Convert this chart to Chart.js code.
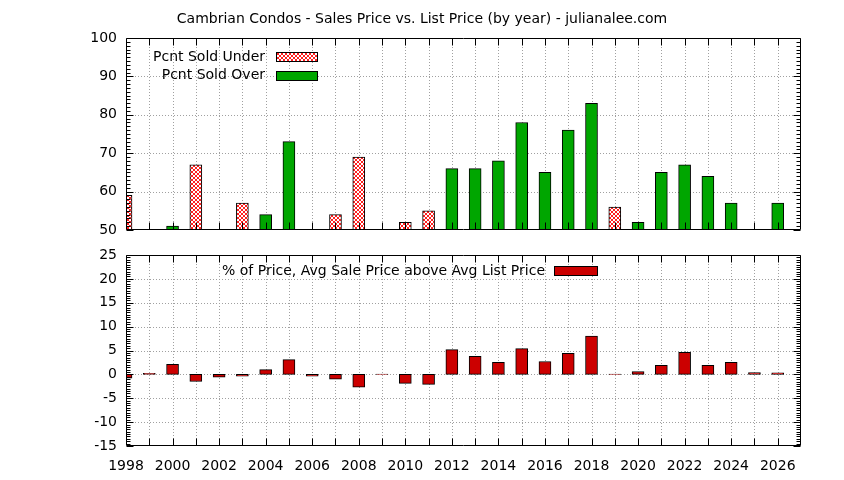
<!DOCTYPE html>
<html><head><meta charset="utf-8">
<script src="https://cdn.jsdelivr.net/npm/chart.js@4.4.1/dist/chart.umd.min.js"></script>
<style>
html,body{margin:0;padding:0;background:#fff;}
#wrap{position:relative;width:844px;height:480px;overflow:hidden;}
canvas{position:absolute;left:0;}
#c1{top:0}
#c2{top:240px}
</style></head><body>
<div id="wrap"><canvas id="c1" width="844" height="240"></canvas><canvas id="c2" width="844" height="240"></canvas></div>
<script>
const titleText = 'Cambrian Condos - Sales Price vs. List Price (by year) - julianalee.com';
const years = [1998,1999,2000,2001,2002,2003,2004,2005,2006,2007,2008,2009,2010,2011,2012,2013,2014,2015,2016,2017,2018,2019,2020,2021,2022,2023,2024,2025,2026];
const pcntUnder = [59,null,null,67,null,57,null,null,null,54,69,null,52,55,null,null,null,null,null,null,null,56,null,null,null,null,null,null,null];
const pcntOver  = [null,null,51,null,null,null,54,73,null,null,null,null,null,null,66,66,68,78,65,76,83,null,52,65,67,64,57,null,57];
const pctAbove  = [-0.8,0.2,2.1,-1.5,-0.6,-0.4,1.0,3.1,-0.4,-1.0,-2.7,0.05,-1.9,-2.1,5.2,3.8,2.5,5.4,2.7,4.4,8.0,0.05,0.6,1.9,4.6,1.9,2.5,0.4,0.3];
const labelUnder = 'Pcnt Sold Under';
const labelOver = 'Pcnt Sold Over';
const labelAbove = '% of Price, Avg Sale Price above Avg List Price';

const FONT_FAMILY = '"DejaVu Sans", sans-serif';
const FONT_SIZE = 14;
const FONT = {family: FONT_FAMILY, size: FONT_SIZE};

function makeHatch(){
  const p = document.createElement('canvas'); p.width = 4; p.height = 4;
  const g = p.getContext('2d');
  g.fillStyle = '#fff'; g.fillRect(0,0,4,4);
  g.fillStyle = '#ff2020';
  for (let i=0;i<4;i++){ g.fillRect(i,i,1,1); g.fillRect(3-i,i,1,1); }
  return g.createPattern(p,'repeat');
}
const hatch = makeHatch();

function panelPlugin(cfg){
  return {
    id: 'panel',
    beforeDatasetsDraw(chart){
      const {ctx, chartArea: a, scales} = chart;
      const xs = scales.x, ys = scales.y;
      ctx.save();
      ctx.strokeStyle = '#a0a0a0'; ctx.lineWidth = 1; ctx.setLineDash([1,2]);
      for (let yr = xs.min + 1; yr < xs.max; yr++){
        const px = Math.round(xs.getPixelForValue(yr)) + 0.5;
        ctx.beginPath(); ctx.moveTo(px, a.top); ctx.lineTo(px, a.bottom); ctx.stroke();
      }
      for (let v = ys.min + cfg.yStep; v < ys.max; v += cfg.yStep){
        const py = Math.round(ys.getPixelForValue(v)) + 0.5;
        ctx.beginPath(); ctx.moveTo(a.left, py); ctx.lineTo(a.right, py); ctx.stroke();
      }
      ctx.restore();
    },
    afterDatasetsDraw(chart){
      const {ctx, chartArea: a, scales} = chart;
      const xs = scales.x, ys = scales.y;
      ctx.save();
      ctx.strokeStyle = '#000'; ctx.lineWidth = 1; ctx.setLineDash([]);
      const L = Math.round(a.left)+0.5, R = Math.round(a.right)-0.5, T = Math.round(a.top)+0.5, B = Math.round(a.bottom)-0.5;
      ctx.beginPath(); ctx.rect(L, T, R-L, B-T); ctx.stroke();
      for (let yr = xs.min + 1; yr < xs.max; yr++){
        const px = Math.round(xs.getPixelForValue(yr)) + 0.5;
        ctx.beginPath(); ctx.moveTo(px, B); ctx.lineTo(px, B-7); ctx.moveTo(px, T); ctx.lineTo(px, T+7); ctx.stroke();
      }
      const minor = cfg.yStep/10;
      const n = Math.round((ys.max-ys.min)/minor);
      for (let i=0;i<=n;i++){
        const v = ys.min + i*minor;
        const py = Math.round(ys.getPixelForValue(v)) + 0.5;
        const len = (i%10===0) ? 7 : 4;
        ctx.beginPath(); ctx.moveTo(L, py); ctx.lineTo(L+len, py); ctx.moveTo(R, py); ctx.lineTo(R-len, py); ctx.stroke();
      }
      ctx.font = FONT_SIZE + 'px ' + FONT_FAMILY;
      ctx.textAlign = 'right'; ctx.textBaseline = 'middle';
      cfg.key.rows.forEach((row, i) => {
        const ds = chart.data.datasets[i];
        ctx.fillStyle = '#000';
        ctx.fillText(ds.label, cfg.key.textRight, row.y);
        const top = Math.round(row.y - cfg.key.boxH/2);
        ctx.fillStyle = ds.backgroundColor;
        ctx.fillRect(cfg.key.boxL, top, cfg.key.boxW, cfg.key.boxH);
        ctx.strokeStyle = '#000';
        ctx.strokeRect(cfg.key.boxL + 0.5, top + 0.5, cfg.key.boxW - 1, cfg.key.boxH - 1);
      });
      if (cfg.title){
        ctx.fillStyle = '#000'; ctx.textAlign = 'center'; ctx.textBaseline = 'middle';
        ctx.fillText(cfg.title.text, cfg.title.x, cfg.title.y);
      }
      ctx.restore();
    }
  };
}

function fixY(s){ s.width = 126; s.paddingTop = 0; s.paddingBottom = 0; }
const barCommon = {borderColor:'#000', borderWidth:1, borderSkipped:false, barThickness:12, grouped:false};

new Chart(document.getElementById('c1'), {
  type: 'bar',
  data: {datasets: [
    Object.assign({label: labelUnder, data: years.map((x,i)=>({x, y: pcntUnder[i]})), backgroundColor: hatch}, barCommon),
    Object.assign({label: labelOver, data: years.map((x,i)=>({x, y: pcntOver[i]})), backgroundColor: '#00a600'}, barCommon)
  ]},
  options: {
    responsive: false, animation: false, devicePixelRatio: 1,
    layout: {padding: {left: 0, right: 43, top: 38, bottom: 10}},
    plugins: {legend: {display: false}, tooltip: {enabled: false}, title: {display: false}},
    scales: {
      x: {type: 'linear', min: 1998, max: 2027, display: false, offset: false, grid: {offset: false}},
      y: {min: 50, max: 100,
          ticks: {stepSize: 10, padding: 9, color: '#000', font: FONT, callback: v => String(v)},
          grid: {display: false, drawTicks: false}, border: {display: false},
          afterFit: fixY}
    }
  },
  plugins: [panelPlugin({yStep: 10,
    key: {textRight: 265, boxL: 276, boxW: 42, boxH: 10, rows: [{y: 57}, {y: 75.5}]},
    title: {text: titleText, x: 422, y: 19}})]
});

new Chart(document.getElementById('c2'), {
  type: 'bar',
  data: {datasets: [
    Object.assign({label: labelAbove, data: years.map((x,i)=>({x, y: pctAbove[i]})), backgroundColor: '#cc0000'}, barCommon)
  ]},
  options: {
    responsive: false, animation: false, devicePixelRatio: 1,
    layout: {padding: {left: 0, right: 43, top: 15, bottom: 0}},
    plugins: {legend: {display: false}, tooltip: {enabled: false}, title: {display: false}},
    scales: {
      x: {type: 'linear', min: 1998, max: 2027, offset: false,
          ticks: {stepSize: 1, autoSkip: false, maxRotation: 0, padding: 12, color: '#000', font: FONT,
                  callback: v => (v % 2 === 0 ? String(v) : '')},
          grid: {display: false, drawTicks: false, offset: false}, border: {display: false},
          afterFit(s){ s.height = 34; s.paddingLeft = 0; s.paddingRight = 0; }},
      y: {min: -15, max: 25,
          ticks: {stepSize: 5, padding: 9, color: '#000', font: FONT, callback: v => String(v)},
          grid: {display: false, drawTicks: false}, border: {display: false},
          afterFit: fixY}
    }
  },
  plugins: [panelPlugin({yStep: 5,
    key: {textRight: 545, boxL: 554, boxW: 44, boxH: 10, rows: [{y: 31}]}})]
});
</script>
</body></html>
